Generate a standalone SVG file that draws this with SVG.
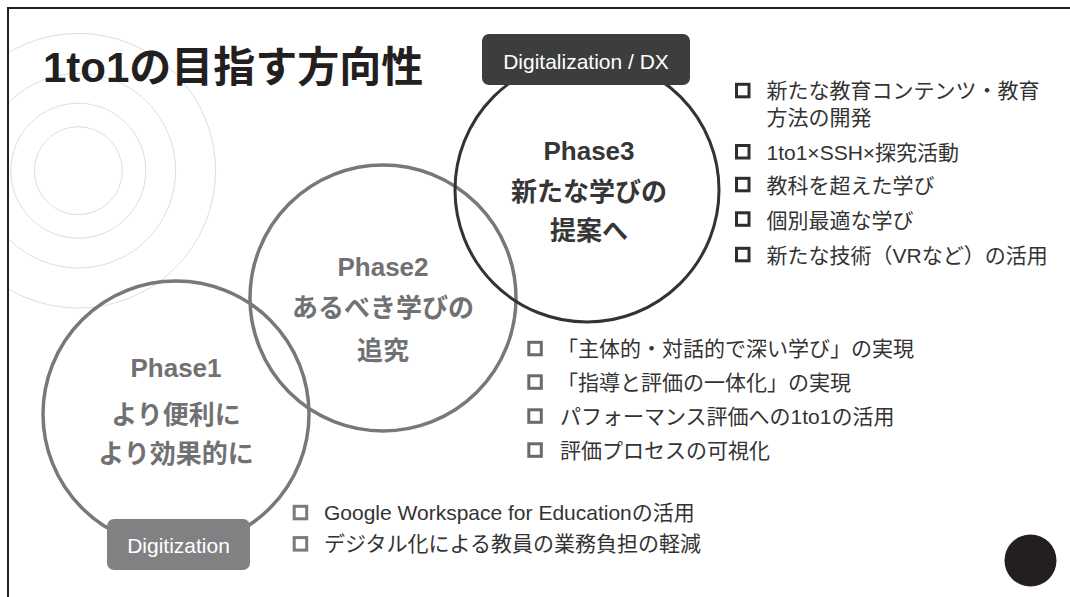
<svg xmlns="http://www.w3.org/2000/svg" width="1070" height="597" viewBox="0 0 1070 597">
<defs>
<clipPath id="frameClip"><rect x="9" y="9" width="1061" height="588"/></clipPath>
<style>
text{font-family:"Liberation Sans","Noto Sans CJK JP",sans-serif;}
.title{font-size:42px;font-weight:bold;fill:#231f20;}
.ring{fill:none;stroke:#dedede;stroke-width:1;}
.pc{fill:none;stroke:#78787b;stroke-width:3.5;}
.pc3{fill:none;stroke:#333333;stroke-width:3;}
.ph{font-size:26px;font-weight:bold;text-anchor:middle;}
.ph12{fill:#717174;}
.ph3{fill:#363636;}
.lbl{font-size:21px;fill:#ffffff;text-anchor:middle;}
.li{font-size:21px;fill:#333333;}
.cb{fill:none;stroke-width:3;}
.cb3{stroke:#2e2e2e;}
.cb2{stroke:#6a6a6a;}
.cb1{stroke:#7a7a7d;}
</style>
</defs>
<rect x="0" y="0" width="1070" height="597" fill="#ffffff"/>
<g id="background-rings" clip-path="url(#frameClip)">
<circle class="ring" cx="78.3" cy="170.7" r="44"/>
<circle class="ring" cx="78.3" cy="170.7" r="67.5"/>
<circle class="ring" cx="78.3" cy="170.7" r="97.3"/>
<circle class="ring" cx="78.3" cy="170.7" r="137.3"/>
</g>
<path d="M8,597 V8 H1070" fill="none" stroke="#231f20" stroke-width="2"/>
<g id="title"><text class="title" x="43" y="81.5">1to1の目指す方向性</text></g>
<g id="connectors"></g>
<g id="phase1">
<circle class="pc" cx="176" cy="414" r="133"/>
<text class="ph ph12" x="176" y="377">Phase1</text>
<text class="ph ph12" x="176" y="424">より便利に</text>
<text class="ph ph12" x="176" y="463">より効果的に</text>
</g>
<g id="phase2">
<circle class="pc" cx="383" cy="298" r="133"/>
<text class="ph ph12" x="383" y="276">Phase2</text>
<text class="ph ph12" x="383" y="317">あるべき学びの</text>
<text class="ph ph12" x="383" y="360">追究</text>
</g>
<g id="phase3">
<circle class="pc3" cx="587" cy="190" r="132"/>
<text class="ph ph3" x="589" y="159.5">Phase3</text>
<text class="ph ph3" x="589" y="200.5">新たな学びの</text>
<text class="ph ph3" x="589" y="240">提案へ</text>
</g>
<g id="label-dx">
<rect x="482" y="34" width="208" height="51" rx="7" fill="#3d3d3d"/>
<text class="lbl" x="586" y="68.5">Digitalization / DX</text>
</g>
<g id="label-digitization">
<rect x="107" y="519" width="143" height="51" rx="7" fill="#818184"/>
<text class="lbl" x="178.5" y="553">Digitization</text>
</g>
<g id="list-phase3">
<rect class="cb cb3" x="736.5" y="84.3" width="12.5" height="12.5"/>
<text class="li" x="766.5" y="98">新たな教育コンテンツ・教育</text>
<text class="li" x="766.5" y="124.5">方法の開発</text>
<rect class="cb cb3" x="736.5" y="145.5" width="12.5" height="12.5"/>
<text class="li" x="766.5" y="159.5">1to1×SSH×探究活動</text>
<rect class="cb cb3" x="736.5" y="178.3" width="12.5" height="12.5"/>
<text class="li" x="766.5" y="193">教科を超えた学び</text>
<rect class="cb cb3" x="736.5" y="212.8" width="12.5" height="12.5"/>
<text class="li" x="766.5" y="228">個別最適な学び</text>
<rect class="cb cb3" x="736.5" y="248.3" width="12.5" height="12.5"/>
<text class="li" x="766.5" y="263">新たな技術（VRなど）の活用</text>
</g>
<g id="list-phase2">
<rect class="cb cb2" x="528.8" y="342.3" width="12.5" height="12.5"/>
<text class="li" x="557" y="356">「主体的・対話的で深い学び」の実現</text>
<rect class="cb cb2" x="528.8" y="375.8" width="12.5" height="12.5"/>
<text class="li" x="557" y="390">「指導と評価の一体化」の実現</text>
<rect class="cb cb2" x="528.8" y="409.8" width="12.5" height="12.5"/>
<text class="li" x="560" y="424">パフォーマンス評価への1to1の活用</text>
<rect class="cb cb2" x="528.8" y="443.8" width="12.5" height="12.5"/>
<text class="li" x="560" y="458">評価プロセスの可視化</text>
</g>
<g id="list-phase1">
<rect class="cb cb1" x="294.2" y="506.3" width="12.5" height="12.5"/>
<text class="li" x="324" y="519.5">Google Workspace for Educationの活用</text>
<rect class="cb cb1" x="294.2" y="537.6" width="12.5" height="12.5"/>
<text class="li" x="324" y="551.3">デジタル化による教員の業務負担の軽減</text>
</g>
<g id="dot"><circle cx="1030.5" cy="560.5" r="26" fill="#231f20"/></g>
</svg>
